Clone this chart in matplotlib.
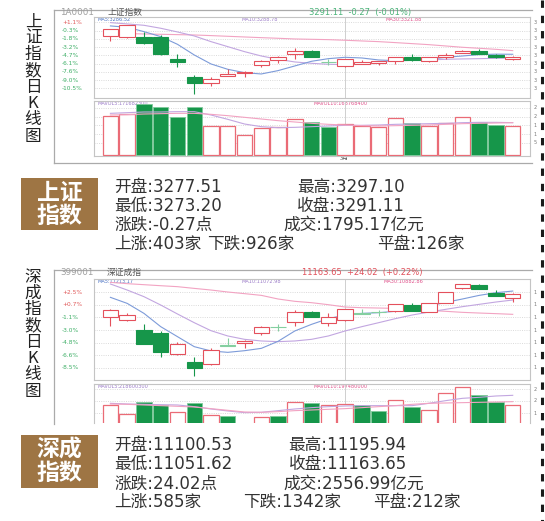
import matplotlib
matplotlib.use('Agg')
import matplotlib.pyplot as plt
from matplotlib.patches import Rectangle
from matplotlib.transforms import blended_transform_factory
import numpy as np

W, H = 545, 521
plt.rcParams['font.family'] = ['Noto Sans CJK SC', 'DejaVu Sans']

# ---------------- data: 上证指数 (percent scale of chart) ----------------
sh_open = [-1.30, -1.54, -1.42, -1.54, -5.34, -8.45, -9.62, -8.27, -7.80, -6.46, -5.46, -4.52, -3.88,
           -5.85, -6.57, -6.22, -6.05, -5.70, -5.05, -5.64, -5.05, -4.23, -3.99, -4.64, -5.41]
sh_close = [-0.13, 0.63, -2.59, -4.47, -5.81, -9.62, -8.92, -7.92, -7.57, -5.64, -5.05, -3.88, -4.93,
            -5.90, -5.40, -5.81, -5.70, -5.05, -5.52, -5.05, -4.58, -3.94, -4.47, -4.99, -4.99]
sh_high = [-0.10, 0.66, -0.66, -1.07, -4.52, -8.21, -8.57, -7.16, -7.39, -5.60, -4.82, -3.47, -3.85,
           -5.29, -5.29, -5.52, -5.66, -5.02, -4.47, -5.02, -4.35, -3.76, -3.62, -4.47, -4.82]
sh_low = [-2.12, -1.66, -2.77, -4.58, -6.81, -11.55, -10.03, -8.39, -8.45, -6.69, -5.99, -5.34, -5.05,
          -6.46, -6.69, -6.28, -6.40, -6.22, -5.70, -5.81, -5.29, -4.35, -4.52, -5.17, -5.54]
sh_ma5 = [0.46, 0.22, -0.54, -1.42, -2.77, -4.64, -6.22, -7.16, -7.75, -7.98, -7.39, -6.57, -5.75,
          -5.29, -5.05, -5.17, -5.52, -5.64, -5.52, -5.40, -5.05, -4.82, -4.58, -4.50, -4.52]
sh_ma10 = [1.04, 0.81, 0.57, 0.05, -0.60, -1.30, -2.30, -3.18, -4.06, -4.82, -5.40, -5.87, -6.11,
           -6.28, -6.34, -6.11, -5.87, -5.70, -5.58, -5.52, -5.40, -5.34, -5.29, -5.23, -5.17]
sh_ma30 = [-0.83, -0.89, -0.95, -1.01, -1.07, -1.13, -1.24, -1.36, -1.48, -1.60, -1.71, -1.83, -1.89,
           -1.95, -2.06, -2.18, -2.30, -2.47, -2.65, -2.83, -3.06, -3.29, -3.47, -3.65, -3.88]
sh_vol = [117, 122, 153, 145, 113, 143, 88, 87, 59, 80, 84, 107, 98, 85, 92, 87, 84, 110, 95, 86,
          95, 115, 100, 90, 86]
sh_mavol5 = [125, 127, 129, 129, 130, 130, 120, 107, 93, 85, 82, 83, 85, 87, 89, 89, 90, 92, 93, 94,
             95, 97, 98, 98, 97]
sh_mavol10 = [120, 121, 123, 124, 125, 125, 122, 118, 113, 108, 103, 99, 95, 92, 90, 88, 87, 88, 89,
              90, 92, 94, 95, 96, 97]
sh_levels = [1.1, -0.35, -1.8, -3.25, -4.7, -6.15, -7.6, -9.05, -10.5]
sh_level_labels = ['+1.1%', '-0.3%', '-1.8%', '-3.2%', '-4.7%', '-6.1%', '-7.6%', '-9.0%', '-10.5%']

# ---------------- data: 深证成指 ----------------
sz_open = [-1.15, -1.54, -3.00, -3.39, -6.55, -7.67, -8.01, -5.27, -4.95, -3.49, -2.53, -1.78, -0.32,
           -2.03, -1.59, -0.59, -0.40, -0.22, 0.65, -0.32, 0.99, 3.08, 3.57, 2.45, 1.62]
sz_close = [-0.08, -0.81, -5.04, -6.26, -5.09, -8.50, -5.92, -5.31, -4.56, -2.51, -2.57, -0.32, -1.05,
            -1.05, 0.07, -0.63, -0.44, 0.75, -0.18, 0.89, 2.50, 3.72, 2.94, 1.99, 2.21]
sz_high = [0.02, -0.47, -2.17, -3.10, -4.75, -6.99, -5.58, -4.12, -4.52, -2.48, -2.17, -0.08, -0.18,
           -0.47, 0.10, 0.12, -0.08, 0.78, 0.99, 0.92, 2.53, 3.75, 3.72, 2.84, 2.45]
sz_low = [-2.41, -1.68, -5.10, -6.89, -6.60, -9.71, -8.05, -5.33, -5.58, -3.68, -3.14, -2.37, -1.15,
          -2.37, -1.68, -0.71, -0.95, -0.42, -0.21, -0.35, 0.96, 3.05, 2.94, 1.96, 1.14]
sz_ma5 = [1.77, 0.89, -0.57, -2.51, -3.97, -5.43, -6.06, -6.26, -6.02, -5.68, -4.65, -3.14, -2.17,
          -1.34, -0.81, -0.57, -0.47, -0.27, 0.07, 0.50, 1.04, 1.53, 2.06, 2.45, 2.69]
sz_ma10 = [3.72, 2.84, 1.87, 0.65, -0.66, -1.93, -3.10, -3.87, -4.36, -4.60, -4.70, -4.60, -4.36,
           -3.87, -3.14, -2.51, -1.93, -1.34, -0.81, -0.37, 0.02, 0.41, 0.75, 1.09, 1.38]
sz_ma30 = [3.96, 3.77, 3.62, 3.47, 3.33, 3.08, 2.84, 2.55, 2.31, 2.06, 1.53, 1.19, 0.99, 0.70, 0.36,
           0.26, 0.21, 0.16, 0.07, -0.13, -0.27, -0.42, -0.52, -0.61, -0.71]
sz_vol = [105, 78, 114, 105, 83, 110, 75, 73, 45, 69, 72, 115, 112, 105, 107, 105, 86, 120, 100, 90,
          140, 158, 135, 113, 106]
sz_mavol5 = [110, 108, 107, 106, 105, 100, 93, 87, 82, 83, 88, 93, 97, 100, 102, 103, 103, 103, 103,
             110, 118, 125, 128, 132, 134]
sz_mavol10 = [108, 107, 105, 103, 101, 99, 94, 89, 84, 83, 85, 88, 90, 92, 94, 97, 100, 103, 107,
              110, 111, 112, 113, 114, 115]
sz_levels = [2.5, 0.67, -1.17, -3.0, -4.83, -6.67, -8.5]
sz_level_labels = ['+2.5%', '+0.7%', '-1.1%', '-3.0%', '-4.8%', '-6.6%', '-8.5%']

sh_info = [['开盘:3277.51', '最高:3297.10'], ['最低:3273.20', '收盘:3291.11'],
           ['涨跌:-0.27点', '成交:1795.17亿元'], ['上涨:403家', '下跌:926家', '平盘:126家']]
sz_info = [['开盘:11100.53', '最高:11195.94'], ['最低:11051.62', '收盘:11163.65'],
           ['涨跌:24.02点', '成交:2556.99亿元'], ['上涨:585家', '下跌:1342家', '平盘:212家']]

# ---------------- styles ----------------
RED = '#E4505C'
GREEN = '#16964A'
DOJI = '#84CFA0'
VRED = '#EA6B76'
C_MA5 = '#7D9BD9'
C_MA10 = '#C2A6E0'
C_MA30 = '#F2A3C2'
GRID = '#D6D6D6'
SPINE = '#C4C4C4'
BROWN = '#9E7544'
TXT = '#333333'

fig = plt.figure(figsize=(W / 100, H / 100), dpi=100)
bg = fig.add_axes([0, 0, 1, 1], zorder=0)
bg.set_xlim(0, W)
bg.set_ylim(H, 0)
bg.axis('off')


def pax(x0, y0, x1, y1):
    ax = fig.add_axes([x0 / W, 1 - y1 / H, (x1 - x0) / W, (y1 - y0) / H], zorder=2)
    ax.set_xticks([])
    ax.set_yticks([])
    for s in ax.spines.values():
        s.set_color(SPINE)
        s.set_linewidth(0.8)
    ax.patch.set_alpha(0)
    return ax


def draw_candles(ax, o, c, h, l):
    for i in range(len(o)):
        diff = c[i] - o[i]
        doji = abs(diff) < 0.06
        up = diff > 0
        col = DOJI if doji else (RED if up else GREEN)
        ax.vlines(i, l[i], h[i], color=col, lw=0.8, zorder=2)
        bottom = min(o[i], c[i])
        height = max(abs(diff), 0.05)
        if up and not doji:
            ax.bar(i, height, bottom=bottom, width=0.92, facecolor='white', edgecolor=col,
                   lw=0.8, zorder=3)
        else:
            ax.bar(i, height, bottom=bottom, width=0.92, facecolor=col, edgecolor=col,
                   lw=0.8, zorder=3)


def draw_vol(ax, vol, o, c, mv5, mv10):
    for i in range(len(vol)):
        up = c[i] - o[i] > 0 and abs(c[i] - o[i]) >= 0.06
        if up:
            ax.bar(i, vol[i], width=0.92, facecolor='white', edgecolor=VRED, lw=0.9, zorder=3)
        else:
            ax.bar(i, vol[i], width=0.92, facecolor=GREEN, edgecolor='#7FC99B', lw=0.6, zorder=3)
    x = np.arange(len(vol))
    ax.plot(x, mv5, color=C_MA10, lw=0.8, zorder=4)
    ax.plot(x, mv10, color=C_MA30, lw=0.8, zorder=4)


def price_panel(ax, o, c, h, l, m5, m10, m30, levels, labels, ylim, rtick):
    n = len(o)
    ax.set_xlim(-0.98, n + 0.03)
    ax.set_ylim(*ylim)
    for lv in levels:
        ax.axhline(lv, color=GRID, lw=0.6, ls=(0, (1.2, 1.5)), zorder=1)
    ax.axvline(14, color='#CFCFCF', lw=0.7, zorder=1)
    x = np.arange(n)
    ax.plot(x, m30, color=C_MA30, lw=0.8, zorder=1.5)
    ax.plot(x, m10, color=C_MA10, lw=0.8, zorder=1.5)
    ax.plot(x, m5, color=C_MA5, lw=0.8, zorder=1.5)
    draw_candles(ax, o, c, h, l)
    tr = blended_transform_factory(ax.transAxes, ax.transData)
    for lv, lb in zip(levels, labels):
        col = '#E05A5A' if lb.startswith('+') else '#3DAE66'
        ax.text(-0.073, lv, lb, transform=tr, ha='left', va='center', fontsize=4.2,
                color=col, family='DejaVu Sans', clip_on=False)
        ax.text(1.008, lv, rtick, transform=tr, ha='left', va='center', fontsize=3.5,
                color='#777777', family='DejaVu Sans', clip_on=False)


# ---------------- 上证 chart ----------------
for (xs, ys) in [([54, 532], [9.5, 9.5]), ([54, 54], [9.5, 162.5]), ([54, 532], [162.5, 162.5]),
                 ([54, 532], [269.5, 269.5]), ([54, 54], [269.5, 423.5])]:
    bg.plot(xs, ys, color='#AAAAAA', lw=0.9)

ax1 = pax(94, 16.7, 530, 98)
price_panel(ax1, sh_open, sh_close, sh_high, sh_low, sh_ma5, sh_ma10, sh_ma30,
            sh_levels, sh_level_labels, (-12.2, 2.08), '3')

v1 = pax(94, 101, 530, 156)
v1.set_xlim(-0.98, len(sh_vol) + 0.03)
v1.set_ylim(-3, 162)
for g in [37, 63, 89, 115, 141]:
    v1.axhline(g, color=GRID, lw=0.6, ls=(0, (1.2, 1.5)), zorder=1)
v1.axvline(14, color='#CFCFCF', lw=0.7, zorder=1)
draw_vol(v1, sh_vol, sh_open, sh_close, sh_mavol5, sh_mavol10)
trv = blended_transform_factory(v1.transAxes, v1.transData)
for g, t in zip([141, 115, 89, 63, 37], ['2', '2', '1', '1', '5']):
    v1.text(1.008, g, t, transform=trv, fontsize=3.5, color='#777777', va='center',
            family='DejaVu Sans', clip_on=False)

# ---------------- 深证 chart ----------------
ax2 = pax(94, 279, 530, 380)
price_panel(ax2, sz_open, sz_close, sz_high, sz_low, sz_ma5, sz_ma10, sz_ma30,
            sz_levels, sz_level_labels, (-10.3, 4.45), '1')

v2 = pax(94, 384, 530, 423.3)
v2.spines['bottom'].set_visible(False)
v2.set_xlim(-0.98, len(sz_vol) + 0.03)
v2.set_ylim(50, 168)
for g in [152, 117, 80]:
    v2.axhline(g, color=GRID, lw=0.6, ls=(0, (1.2, 1.5)), zorder=1)
v2.axvline(14, color='#CFCFCF', lw=0.7, zorder=1)
draw_vol(v2, sz_vol, sz_open, sz_close, sz_mavol5, sz_mavol10)
trv2 = blended_transform_factory(v2.transAxes, v2.transData)
for g, t in zip([152, 117, 80], ['2', '2', '1']):
    v2.text(1.008, g, t, transform=trv2, fontsize=3.5, color='#777777', va='center',
            family='DejaVu Sans', clip_on=False)

# ---------------- headers & legends ----------------
bg.text(60, 12.8, '1A0001', fontsize=6.3, color='#A0A0A0', va='center', family='DejaVu Sans')
bg.text(107, 12.8, '上证指数', fontsize=6.3, color='#555555', va='center')
bg.text(309, 12.8, '3291.11  -0.27  (-0.01%)', fontsize=6.0, color='#4DB47B', va='center',
        family='DejaVu Sans')
bg.text(97, 19.2, 'MA5:3286.52', fontsize=3.6, color='#4A72C4', va='center', family='DejaVu Sans')
bg.text(242, 19.2, 'MA10:3288.78', fontsize=3.6, color='#9C7CC9', va='center', family='DejaVu Sans')
bg.text(386, 19.2, 'MA30:3321.88', fontsize=3.6, color='#E0508A', va='center', family='DejaVu Sans')
bg.text(97, 103.4, 'MAVOL5:171682300', fontsize=3.6, color='#9C7CC9', va='center',
        family='DejaVu Sans')
bg.text(313, 103.4, 'MAVOL10:168768400', fontsize=3.6, color='#E0508A', va='center',
        family='DejaVu Sans')
bg.text(344, 158.8, '3月', fontsize=4.2, color='#555555', ha='center', va='center')

bg.text(60, 272.8, '399001', fontsize=6.3, color='#A0A0A0', va='center', family='DejaVu Sans')
bg.text(107, 272.8, '深证成指', fontsize=6.3, color='#555555', va='center')
bg.text(302, 272.8, '11163.65  +24.02  (+0.22%)', fontsize=6.0, color='#E0505A', va='center',
        family='DejaVu Sans')
bg.text(97, 281.3, 'MA5:11213.17', fontsize=3.6, color='#4A72C4', va='center', family='DejaVu Sans')
bg.text(241, 281.3, 'MA10:11072.98', fontsize=3.6, color='#9C7CC9', va='center', family='DejaVu Sans')
bg.text(384, 281.3, 'MA30:10882.86', fontsize=3.6, color='#E0508A', va='center', family='DejaVu Sans')
bg.text(97, 386.5, 'MAVOL5:218600300', fontsize=3.6, color='#9C7CC9', va='center',
        family='DejaVu Sans')
bg.text(313, 386.5, 'MAVOL10:197480000', fontsize=3.6, color='#E0508A', va='center',
        family='DejaVu Sans')

# vertical titles
bg.text(33, 14, '\n'.join('上证指数日K线图'), fontsize=12, color='#222222', ha='center',
        va='top', linespacing=0.94)
bg.text(33, 269, '\n'.join('深成指数日K线图'), fontsize=12, color='#222222', ha='center',
        va='top', linespacing=0.94)

# brown boxes
for (y0, y1, txt) in [(178, 230, '上证\n指数'), (435, 488, '深成\n指数')]:
    bg.add_patch(Rectangle((21, y0), 77, y1 - y0, facecolor=BROWN, edgecolor='none'))
    bg.text(59.5, (y0 + y1) / 2 + 0.5, txt, fontsize=16.5, color='white', fontweight='bold',
            ha='center', va='center', linespacing=1.02)

# info lines
info_font = ['DejaVu Sans', 'Noto Sans CJK SC']
sh_rows_y = [187, 205.5, 225, 244]
sh_cols = [[114, 297], [114, 297], [114, 283], [114, 207, 377]]
for row, yy, xs in zip(sh_info, sh_rows_y, sh_cols):
    for t, xx in zip(row, xs):
        bg.text(xx, yy, t, fontsize=12, color=TXT, va='center', ha='left', family=info_font)
sz_rows_y = [445, 463.5, 483.5, 502]
sz_cols = [[114, 288.5], [114, 288.5], [114, 283], [114, 243, 373.6]]
for row, yy, xs in zip(sz_info, sz_rows_y, sz_cols):
    for t, xx in zip(row, xs):
        bg.text(xx, yy, t, fontsize=12, color=TXT, va='center', ha='left', family=info_font)

# dashed right edge
bg.plot([541.5, 541.5], [0, H], color='#1A1A1A', lw=2.2, ls=(0, (2.4, 2.6)))

fig.savefig('out.png', dpi=100)
